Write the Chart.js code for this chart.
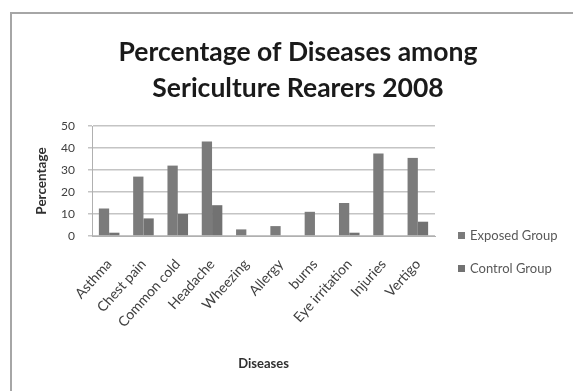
<!DOCTYPE html>
<html>
<head>
<meta charset="utf-8">
<script src="https://cdn.jsdelivr.net/npm/chart.js@4.4.1/dist/chart.umd.min.js"></script>
<style>
  html, body { margin: 0; padding: 0; background: #fff; }
  #wrap { position: relative; width: 573px; height: 391px; overflow: hidden; }
  #frame { position: absolute; left: 10px; top: 12px; width: 600px; height: 420px;
           border: 2px solid #a6a6a6; box-sizing: border-box; }
  canvas { position: absolute; left: 0; top: 0; }
</style>
</head>
<body>
<div id="wrap">
  <div id="frame"></div>
  <canvas id="c" width="573" height="391"></canvas>
</div>
<script>
// Disease categories and survey percentages
const categories = ["Asthma", "Chest pain", "Common cold", "Headache", "Wheezing",
                    "Allergy", "burns", "Eye irritation", "Injuries", "Vertigo"];
const exposedGroup = [12.5, 27, 32, 43, 3, 4.5, 11, 15, 37.5, 35.5];
const controlGroup = [1.5, 8, 10, 14, 0, 0, 0, 1.5, 0, 6.5];
const seriesNames = ["Exposed Group", "Control Group"];
const titleLines = ["Percentage of Diseases among", "Sericulture Rearers 2008"];
const yTicks = [0, 10, 20, 30, 40, 50];

const FONT = "Lato, 'Open Sans', sans-serif";
const TITLE_SIZE = 26.5;

// Title centred on the whole frame (the built-in title only reserves the space)
const frameTitle = {
  id: "frameTitle",
  afterDraw(chart) {
    const ctx = chart.ctx;
    ctx.save();
    ctx.font = "bold " + TITLE_SIZE + "px " + FONT;
    ctx.fillStyle = "#1a1a1a";
    ctx.textAlign = "center";
    ctx.textBaseline = "middle";
    titleLines.forEach((t, i) => ctx.fillText(t, 298, 52 + i * 36));
    ctx.restore();
  }
};

// Legend drawn to the right of the plot, one row per dataset
const sideLegend = {
  id: "sideLegend",
  afterDraw(chart) {
    const ctx = chart.ctx;
    ctx.save();
    ctx.font = "13px " + FONT;
    ctx.textBaseline = "middle";
    chart.data.datasets.forEach((ds, i) => {
      const y = 236 + i * 33;
      ctx.fillStyle = ds.backgroundColor;
      ctx.fillRect(458, y - 4, 7, 7);
      ctx.fillStyle = "#595959";
      ctx.fillText(ds.label, 470, y);
    });
    ctx.restore();
  }
};

new Chart(document.getElementById("c"), {
  type: "bar",
  data: {
    labels: categories,
    datasets: [
      { label: seriesNames[0], data: exposedGroup, backgroundColor: "#7b7b7b" },
      { label: seriesNames[1], data: controlGroup, backgroundColor: "#727272" }
    ]
  },
  options: {
    responsive: false,
    animation: false,
    devicePixelRatio: 1,
    layout: { padding: { left: 34, right: 138, top: 0, bottom: 19 } },
    datasets: { bar: { categoryPercentage: 0.6, barPercentage: 1.0 } },
    plugins: {
      legend: { display: false },
      tooltip: { enabled: false },
      title: {
        display: true,
        text: titleLines,
        color: "rgba(0,0,0,0)",
        font: { family: FONT, size: 25, weight: "bold", lineHeight: 1.44 },
        padding: { top: 34, bottom: 20 }
      }
    },
    scales: {
      x: {
        grid: { display: false, drawTicks: false },
        border: { display: true, color: "#b0b0b0", width: 1 },
        ticks: {
          minRotation: 48, maxRotation: 48, autoSkip: false,
          color: "#404040", font: { family: FONT, size: 14 }, padding: 20
        },
        title: {
          display: true, text: "Diseases", color: "#303030",
          font: { family: FONT, size: 13, weight: "bold" }, padding: { top: 0, bottom: 0 }
        },
        afterFit(scale) { scale.height = 136; }
      },
      y: {
        min: 0, max: 50,
        afterBuildTicks(scale) { scale.ticks = yTicks.map(v => ({ value: v })); },
        grid: { color: "#c4c4c4", lineWidth: 1.5, tickLength: 4 },
        border: { display: true, color: "#b0b0b0", width: 1 },
        ticks: { color: "#404040", font: { family: FONT, size: 12 }, padding: 13 },
        title: {
          display: true, text: "Percentage", color: "#303030",
          font: { family: FONT, size: 13.5, weight: "bold" }, padding: { top: 0, bottom: 2 }
        },
        afterFit(scale) { scale.width = 58; }
      }
    }
  },
  plugins: [sideLegend, frameTitle]
});
</script>
</body>
</html>
